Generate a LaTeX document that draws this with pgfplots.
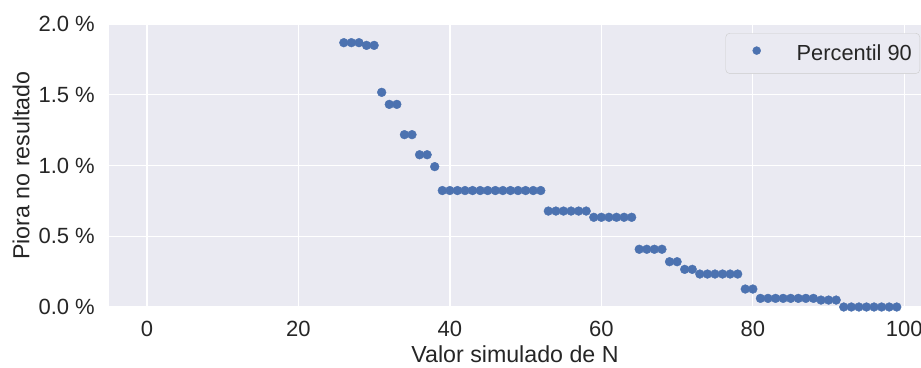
\documentclass[border=0pt]{standalone}
\usepackage{pgfplots}
\pgfplotsset{compat=1.18}
\usepackage{pgfplotstable}
\usepackage{fontspec}
\setmainfont{Liberation Sans}

\definecolor{bgc}{HTML}{EAEAF2}
\definecolor{pointc}{HTML}{4C72B0}
\definecolor{txtc}{HTML}{262626}
\definecolor{legc}{HTML}{CCCCCC}

% 90th percentile of the worsening for each simulated N (in percent)
\pgfplotstableread{
x y
26 1.868
27 1.868
28 1.868
29 1.849
30 1.849
31 1.517
32 1.432
33 1.432
34 1.218
35 1.218
36 1.076
37 1.076
38 0.992
39 0.823
40 0.823
41 0.823
42 0.823
43 0.823
44 0.823
45 0.823
46 0.823
47 0.823
48 0.823
49 0.823
50 0.823
51 0.823
52 0.823
53 0.678
54 0.678
55 0.678
56 0.678
57 0.678
58 0.678
59 0.634
60 0.634
61 0.634
62 0.634
63 0.634
64 0.634
65 0.408
66 0.408
67 0.408
68 0.408
69 0.320
70 0.320
71 0.266
72 0.266
73 0.233
74 0.233
75 0.233
76 0.233
77 0.233
78 0.233
79 0.127
80 0.127
81 0.061
82 0.061
83 0.061
84 0.061
85 0.061
86 0.061
87 0.061
88 0.061
89 0.049
90 0.049
91 0.049
92 0.000
93 0.000
94 0.000
95 0.000
96 0.000
97 0.000
98 0.000
99 0.000
}\pnine

\begin{document}
\begin{tikzpicture}
\begin{axis}[
  at={(0pt,0pt)}, anchor=south west,
  width=812pt, height=283pt, scale only axis,
  xmin=-5, xmax=102.2, ymin=0, ymax=2,
  xtick={0,20,...,100},
  ytick={0,0.5,...,2},
  axis background/.style={fill=bgc},
  axis line style={draw=none},
  major tick length=0pt,
  grid=major,
  major grid style={white, line width=1.3pt},
  /pgf/number format/assume math mode=true,
  yticklabel={\pgfmathprintnumber[fixed,fixed zerofill,precision=1]{\tick}~\%},
  xticklabel={\pgfmathprintnumber[fixed,precision=0]{\tick}},
  ticklabel style={font=\fontsize{22}{26}\selectfont, text=txtc},
  yticklabel style={anchor=east, inner sep=0pt, xshift=-14pt},
  xticklabel style={anchor=north, inner sep=0pt, yshift=-13.5pt},
  xlabel={Valor simulado de N},
  ylabel={Piora no resultado},
  label style={font=\fontsize{23.2}{27}\selectfont, text=txtc, inner sep=0pt},
  xlabel style={at={(axis description cs:0.5,-0.166)}, anchor=center},
  ylabel style={at={(axis description cs:-0.1083,0.5)}, anchor=center},
  legend style={
    at={(0.9988,0.968)}, anchor=north east,
    draw=legc, fill=bgc, rounded corners=4pt,
    font=\fontsize{21.8}{25}\selectfont, text=txtc,
    inner xsep=8pt, inner ysep=11.5pt,
    nodes={inner sep=0pt},
  },
]
\addplot[only marks, mark=*, mark size=4.4pt,
  mark options={draw=pointc, fill=pointc}, color=pointc,
  legend image code/.code={%
    \path[draw=none, fill=none] (0pt,0pt) rectangle (63pt,1pt);
    \fill[pointc] (23pt,0.28em) circle (4pt);
  }]
  table[x=x, y=y] {\pnine};
\addlegendentry{Percentil 90}
\end{axis}
\pgfresetboundingbox
\path[use as bounding box] (-109pt,-60pt) rectangle (812pt,307pt);
\end{tikzpicture}
\end{document}
